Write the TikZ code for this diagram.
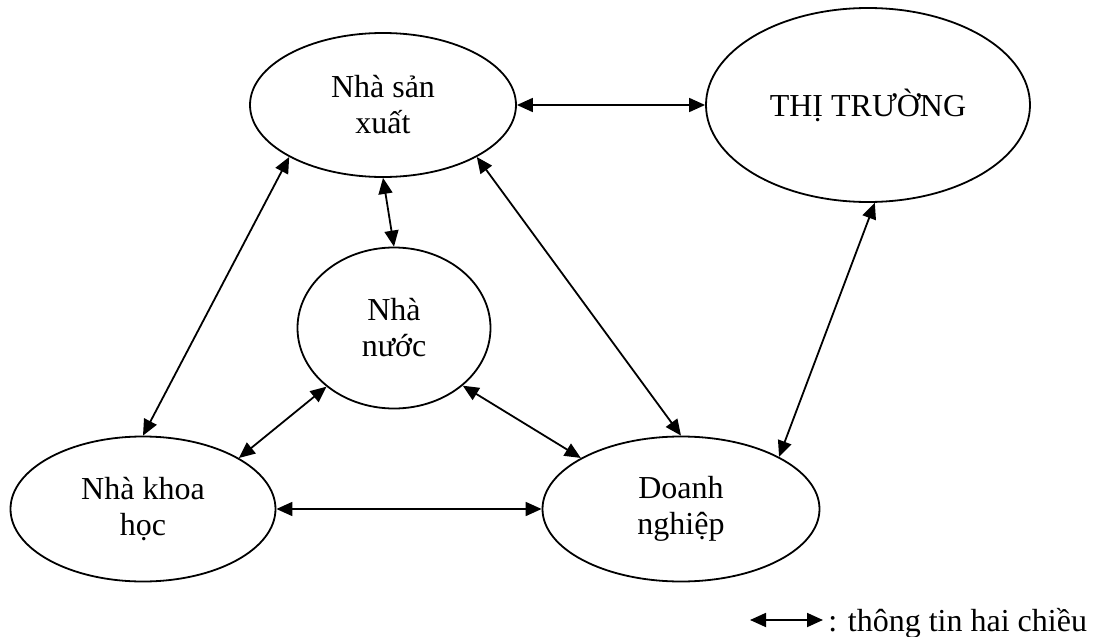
\documentclass[tikz,border=0pt]{standalone}
\usepackage{fontspec}
\setmainfont{Liberation Serif}
\usetikzlibrary{shapes.geometric,arrows.meta}

\begin{document}
\begin{tikzpicture}[x=0.5pt,y=-0.5pt,
	oval/.style={
		draw, ellipse,
		line width = 0.9pt,
		inner sep = 0pt,
		align = center,
		font = \fontsize{16}{18}\selectfont
	},
	link/.style={
		{Triangle[length=8pt,width=7pt]}-{Triangle[length=8pt,width=7pt]},
		line width = 0.9pt
	},
	]
	\useasboundingbox (0,0) rectangle (1094,637);

	\node[oval, minimum width=133pt, minimum height=72pt] (sanxuat) at (383,105) {Nhà sản\\xuất};
	\node[oval, minimum width=162pt, minimum height=97pt] (thitruong) at (868,105) {THỊ TRƯỜNG};
	\node[oval, minimum width=96.5pt, minimum height=80.5pt] (nhanuoc) at (394,328) {Nhà\\nước};
	\node[oval, minimum width=132.5pt, minimum height=72.5pt] (khoahoc) at (143,509) {Nhà khoa\\học};
	\node[oval, minimum width=138.5pt, minimum height=72.5pt] (doanhnghiep) at (681,509) {Doanh\\nghiệp};

	\draw[link] (sanxuat.east) -- (thitruong.west);
	\draw[link] (sanxuat.south) -- (nhanuoc.north);
	\draw[link] (sanxuat.209) -- (khoahoc.north);
	\draw[link] (sanxuat.331) -- (doanhnghiep.north);
	\draw[link] (thitruong.274) -- (doanhnghiep.28);
	\draw[link] (nhanuoc.221) -- (khoahoc.28);
	\draw[link] (nhanuoc.320) -- (doanhnghiep.153);
	\draw[link] (khoahoc.east) -- (doanhnghiep.west);

	% legend
	\coordinate (legleft) at (750,620);
	\coordinate (legright) at (823,620);
	\draw[link] (legleft) -- (legright);
	\node[anchor=base west, inner sep=0pt, font=\fontsize{16}{18}\selectfont] (legtext) at (828,631) {: thông tin hai chiều};

\end{tikzpicture}
\end{document}
